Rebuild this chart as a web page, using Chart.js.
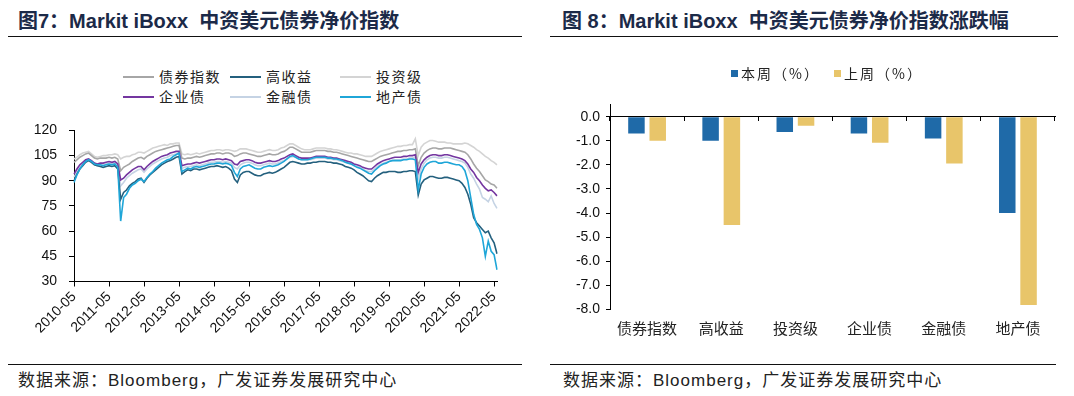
<!DOCTYPE html>
<html><head><meta charset="utf-8">
<script src="https://cdn.jsdelivr.net/npm/chart.js@4.4.1/dist/chart.umd.min.js"></script>
<style>
body{margin:0;width:1074px;height:396px;background:#fff;position:relative;overflow:hidden;font-family:"Liberation Sans","Noto Sans CJK SC",sans-serif;}
.title{position:absolute;top:9px;font-weight:bold;font-size:20px;line-height:24px;color:#1c2a48;white-space:nowrap;}
.rule{position:absolute;height:0;border-top:1.5px solid #111;}
.src{position:absolute;top:371px;font-size:17px;line-height:20px;color:#222;letter-spacing:1px;white-space:nowrap;}
.cw{position:absolute;}
.lgi{position:absolute;font-size:14px;line-height:16px;color:#222;letter-spacing:1.5px;white-space:nowrap;font-family:"Noto Sans CJK SC",sans-serif;}
.lgl{position:absolute;height:2px;width:31px;}
.lgs{position:absolute;width:7px;height:7px;}
</style>
</head><body>
<div class="title" style="left:18px">图7：Markit iBoxx&nbsp; 中资美元债券净价指数</div>
<div class="rule" style="left:8px;width:514px;top:36px"></div>
<div class="title" style="left:562px">图 8：Markit iBoxx&nbsp; 中资美元债券净价指数涨跌幅</div>
<div class="rule" style="left:550px;width:508px;top:36px"></div>

<div class="cw" style="left:0;top:110px;width:540px;height:240px"><canvas id="c1" width="540" height="240"></canvas></div>
<div class="cw" style="left:550px;top:55px;width:520px;height:290px"><canvas id="c2" width="520" height="290"></canvas></div>
<div id="lg1"></div>
<div id="lg2"></div>

<div class="rule" style="left:8px;width:514px;top:364px"></div>
<div class="rule" style="left:550px;width:506px;top:364px"></div>
<div class="src" style="left:18px">数据来源：Bloomberg，广发证券发展研究中心</div>
<div class="src" style="left:563px">数据来源：Bloomberg，广发证券发展研究中心</div>

<script>
// ---- Left chart data (monthly, 2010-05 .. 2022-06) ----
const startYear = 2010, startMonth = 5, monthCount = 146;
const months = [];
for (let i = 0; i < monthCount; i++) {
  const t = startMonth - 1 + i;
  months.push((startYear + Math.floor(t / 12)) + '-' + String(t % 12 + 1).padStart(2, '0'));
}
const tickLabels = ['2010-05','2011-05','2012-05','2013-05','2014-05','2015-05','2016-05','2017-05','2018-05','2019-05','2020-05','2021-05','2022-05'];
const seriesNames = ['债券指数','高收益','投资级','企业债','金融债','地产债'];

const bondIndex = [101,102.5,104,105,106,106.5,105,103.5,103,103.5,
103.5,103.5,104,103.5,104,103,96,98,99,100,
101.5,102.5,103.5,104,103,104.5,105.5,106.5,107.5,108,
108.5,109,109.5,110,110.5,111,111,103.5,103,103.5,
103.5,104,104.5,104,104.5,105,105.5,106,106,106.5,
106.5,106,106.5,106.5,106,104.5,105,106,106.5,106.5,
106,105.5,105,104.5,104.5,105,105.5,106,105.5,105.5,
106,107,107.5,108.5,110,110,109,108,107,107,
107,107,107.5,108,108,108,108,107.5,107.5,107,
107,106.5,106,105.5,105,104.5,104,103.5,103,102.5,
102,101.5,101.5,102.5,103.5,104.5,105,105.5,106,106.5,
107,107.5,107.5,108,108,108.5,108.5,109,99,104,
106.5,108,109,109.5,109.5,109,109,109.5,109.5,109.5,
109,108.5,108,107.5,107,105.5,103,100,97.5,95.5,
93,90.5,89.5,88,87.5,85.5];

const highYield = [90,94,97,99,101,102,101,99.5,99,98.5,
98,98.5,99,98.5,99,97,79,83,84.5,87,
88.5,89.5,91,91.5,89,91.5,93.5,95,96.5,98,
99.5,100.5,101.5,102,103,104,104.5,94,95.5,96.5,
96,97,97,96.5,97,97.5,98,98.5,98.5,99,
98.5,98,98.5,97.5,96,91,89,93.5,95,95.5,
95.5,94.5,93.5,93,93,94,94.5,95,94.5,95,
96,97,98,99.5,101,101.5,101,100.5,100,100,
100.5,100.5,101,101,101.5,101.5,101.5,101,101,100.5,
100.5,100,99.5,98.5,98,97.5,96.5,95,94,93,
91.5,90,89.5,91.5,93,94,95,95,95.5,95.5,
95.5,95,95,95.5,95.5,96,96,95.5,81.5,88,
90.5,91.5,92.5,92.5,92,91.5,91.5,92,92,91.5,
91,90.5,90,88.5,86,82,76,68,65,63,
61,59,60,56,53,46.5];

const investGrade = [103,104,105.5,106.5,107,107.5,106,104.5,104,104.5,
105,105,105.5,105.5,106,105.5,103,104,104.5,104.5,
105.5,106,107,107,106.5,107.5,108.5,109.5,110,110.5,
111,111.5,111,112,112,112.5,112.5,106,105.5,106,
105.5,106,106.5,106,106.5,107,107.5,108,108,108.5,
108.5,108,108.5,108.5,108,107.5,108,109,109,109,
108.5,108,107.5,107,107,107.5,108,108.5,108,108,
108.5,109.5,110,111,112,112,111,110,109,108.5,
108.5,108.5,109,109.5,109.5,109.5,109.5,109,109,108.5,
108.5,108,107.5,107,106.5,106.5,106,106,105.5,105,
104.5,104.5,104.5,105.5,106.5,107.5,108,108.5,109,109.5,
110,110.5,110.5,111,111,111.5,111.5,115,105,110,
112,113,114,114,113.5,113,113,113,112.5,112.5,
112,112,112,112,112.5,112,111,110,108.5,107.5,
106,104.5,103.5,102,101,99.5];

const corporate = [94,97,99.5,101,102.5,103,102,100.5,100,100.5,
100.5,101,101.5,101,101.5,100,90.5,91.5,93.5,95,
96.5,97.5,98.5,98.5,96.5,98.5,100,101.5,102.5,103.5,
104.5,105,105.5,106.5,107,107.5,107.5,99,99.5,100,
100,100.5,101,100.5,101,101.5,102,102.5,102.5,103,
103,102.5,103,102.5,102,100,99.5,101.5,102,102.5,
102.5,102,101,100.5,100.5,101,101.5,102,101.5,101.5,
102,103,103.5,104.5,105.5,106,105,104,103.5,103.5,
103.5,103.5,104,104.5,104.5,104.5,104.5,104,104,103.5,
103.5,103,102.5,102,101.5,101,100,99.5,99,98,
97.5,97,97,98.5,100,101,102,102.5,103,103.5,
104,104,104,104.5,104.5,105,105,105.5,95,100,
102.5,104,105,105.5,105.5,105,105,105.5,105.5,105,
104.5,104,103.5,103,102,100,97,95,92,90,
87.5,85.5,84,84.5,83,81];

const financial = [92,95.5,98,100,101.5,102,101,99.5,99,99.5,
99.5,100,100.5,100,100.5,99,87,89,91.5,93,
94.5,95.5,96.5,97,95,97,98.5,100,101,102,
103,103.5,104,105,105.5,106,106.5,97.5,98,98.5,
98.5,99,99.5,99,99.5,100,100.5,101,101,101.5,
101.5,101,101.5,101,100.5,98,97,99.5,100.5,101,
101,100.5,99.5,99,99,99.5,100,100.5,100,100,
100.5,101.5,102,103,104,104.5,104,103,102.5,102.5,
102.5,102.5,103,103.5,103.5,103.5,103.5,103,103,102.5,
102.5,102,101.5,101,100.5,100,99,98.5,98,97,
96,95.5,95.5,97,98.5,99.5,100.5,101,101.5,102,
102.5,102.5,102.5,103,103,103.5,103.5,104,91,97,
100.5,102.5,103.5,104,104,103.5,103.5,104,104,103.5,
103,102.5,102,101.5,100.5,98,94,91.5,88,85,
80,79,77.5,81,76.5,73.5];

const property = [89,93.5,97,99.5,101.5,102.5,101.5,100,99.5,99.5,
99,99.5,100,99.5,100,98,66,80,82,85.5,
87.5,88.5,90,91,89.5,92,94,95.5,97.5,99,
100.5,101.5,102.5,103,104.5,105.5,106.5,95.5,96.5,97.5,
97,98,98.5,98,98.5,99,99.5,100,100,100.5,
100.5,100,100.5,100,99,95,92.5,97,98.5,99,
99.5,98.5,97.5,97,97,98,98.5,99,98.5,99,
99.5,100.5,101.5,103,104.5,105,104,103,102.5,102.5,
102.5,103,103.5,104,104,104,104,103.5,103.5,103,
103,102.5,102,101,100.5,100,99,98,97.5,96.5,
95.5,94.5,94,96,97.5,99,100,100.5,101.5,102,
102,102,102,102.5,102.5,103,103,102.5,84.5,94,
98,100,101,101.5,101.5,100.5,100.5,101,101,100.5,
100,99.5,99.5,98.5,96,90,80,70,64,61,
56,45,54,48,46,37];

const yTicks1 = {min: 30, max: 120, step: 15};

// ---- Right chart data ----
const categories = ['债券指数','高收益','投资级','企业债','金融债','地产债'];
const thisWeek = [-0.70, -1.00, -0.63, -0.70, -0.90, -4.00];
const lastWeek = [-1.00, -4.50, -0.37, -1.08, -1.94, -7.82];
const barLabels = ['本周（%）','上周（%）'];
const yTicks2 = {min: -8, max: 0.5, step: 1};

const FONT = "'Liberation Sans','Noto Sans CJK SC',sans-serif";
const CJK = "'Noto Sans CJK SC','Liberation Sans',sans-serif";

const lineColors = ['#a6a6a6','#24607e','#d4d4d4','#7436a0','#c5d3e4','#1fa6d8'];
const drawOrder = [4,1,5,2,3,0];
const lineSeries = [bondIndex, highYield, investGrade, corporate, financial, property];

const c1 = new Chart(document.getElementById('c1'), {
  type: 'line',
  data: {
    labels: months,
    datasets: seriesNames.map((n, i) => ({
      label: n, data: lineSeries[i], borderColor: lineColors[i], backgroundColor: lineColors[i],
      borderWidth: 1.6, pointRadius: 0, tension: 0, order: drawOrder[i], fill: false
    }))
  },
  options: {
    responsive: false, animation: false, events: [],
    layout: {padding: {left: 0, right: 43, top: 13, bottom: 0}},
    plugins: {legend: {display: false}, tooltip: {enabled: false}},
    scales: {
      x: {
        type: 'category',
        grid: {drawOnChartArea: false, drawTicks: true, tickLength: 5, color: '#000'},
        border: {color: '#000', width: 1},
        ticks: {autoSkip: false, maxRotation: 45, minRotation: 45, padding: 2, color: '#111',
          font: {size: 14, family: FONT}},
        afterBuildTicks: ax => { ax.ticks = ax.ticks.filter(t => tickLabels.includes(months[t.value])); },
        afterFit: ax => { ax.height = 68.5; }
      },
      y: {
        min: yTicks1.min, max: yTicks1.max,
        ticks: {stepSize: yTicks1.step, padding: 12, color: '#111', font: {size: 14, family: FONT}},
        grid: {drawOnChartArea: false, drawTicks: true, tickLength: 5, color: '#000'},
        border: {color: '#000', width: 1},
        afterFit: ax => { ax.width = 74; }
      }
    }
  }
});

// HTML legend for the line chart built from its datasets
(function(){
  const lg = document.getElementById('lg1');
  const colX = [123, 230, 340], rowY = [77, 97];
  c1.data.datasets.forEach((ds, i) => {
    const col = i % 3, row = Math.floor(i / 3);
    const l = document.createElement('div');
    l.className = 'lgl';
    l.style.left = colX[col] + 'px'; l.style.top = (rowY[row] - 1) + 'px';
    l.style.background = ds.borderColor;
    lg.appendChild(l);
    const t = document.createElement('div');
    t.className = 'lgi';
    t.style.left = (colX[col] + 36) + 'px'; t.style.top = (rowY[row] - 9) + 'px';
    t.textContent = ds.label;
    lg.appendChild(t);
  });
})();

const barColors = ['#1f6aa8', '#e8c56a'];
const c2 = new Chart(document.getElementById('c2'), {
  type: 'bar',
  data: {
    labels: categories,
    datasets: [
      {label: barLabels[0], data: thisWeek, backgroundColor: barColors[0], xAxisID: 'x', categoryPercentage: 0.574, barPercentage: 0.775},
      {label: barLabels[1], data: lastWeek, backgroundColor: barColors[1], xAxisID: 'x', categoryPercentage: 0.574, barPercentage: 0.775}
    ]
  },
  options: {
    responsive: false, animation: false, events: [],
    layout: {padding: {left: 0, right: 15, top: 49.7, bottom: 0}},
    plugins: {legend: {display: false}, tooltip: {enabled: false}},
    scales: {
      x: {
        type: 'category',
        grid: {display: false, drawTicks: false},
        border: {display: false},
        ticks: {padding: 10, color: '#222', font: {size: 15, family: CJK}},
        afterFit: ax => { ax.height = 35.7; }
      },
      x2: {
        type: 'category', axis: 'x', labels: categories, position: {y: 0}, offset: true,
        grid: {offset: true, drawOnChartArea: false, drawTicks: true, tickLength: 4, color: '#000'},
        border: {color: '#000', width: 1},
        ticks: {display: false}
      },
      y: {
        min: yTicks2.min, max: yTicks2.max,
        ticks: {stepSize: yTicks2.step, includeBounds: false, padding: 6, color: '#111', font: {size: 14, family: FONT},
          callback: v => Number(v).toFixed(1)},
        afterBuildTicks: ax => {
          const t = [];
          for (let v = yTicks2.min; v <= 0; v += yTicks2.step) t.push({value: v});
          ax.ticks = t;
        },
        grid: {drawOnChartArea: false, drawTicks: true, tickLength: 4, color: '#000'},
        border: {color: '#000', width: 1},
        afterFit: ax => { ax.width = 60; }
      }
    }
  }
});

(function(){
  const lg = document.getElementById('lg2');
  const sx = [731, 834];
  c2.data.datasets.forEach((ds, i) => {
    const s = document.createElement('div');
    s.className = 'lgs';
    s.style.left = sx[i] + 'px'; s.style.top = '70px';
    s.style.background = ds.backgroundColor;
    lg.appendChild(s);
    const t = document.createElement('div');
    t.className = 'lgi';
    t.style.left = (sx[i] + 10) + 'px'; t.style.top = '65px';
    t.style.letterSpacing = '2px';
    t.textContent = ds.label;
    lg.appendChild(t);
  });
})();
</script>
</body></html>
